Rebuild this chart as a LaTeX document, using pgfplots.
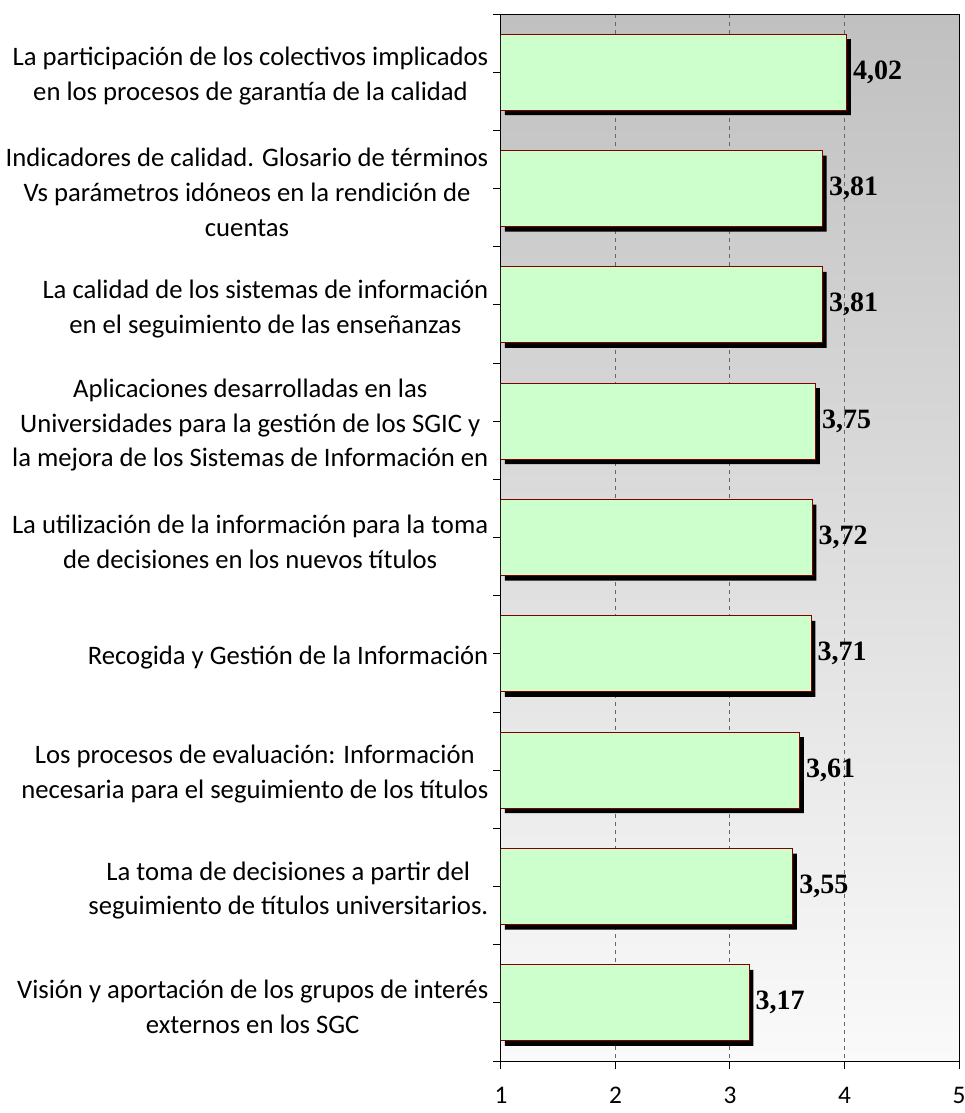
\documentclass[border=0pt]{standalone}
\usepackage{fontspec}
\setmainfont{Carlito}
\newfontfamily\valfont{Liberation Serif Bold}
\usepackage{pgfplots}
\pgfplotsset{compat=1.18}

\definecolor{barfill}{HTML}{CCFFCC}
\definecolor{bardraw}{HTML}{800000}
\definecolor{bgtop}{HTML}{C0C0C0}
\definecolor{bgbot}{HTML}{FAFAFA}

\begin{document}
\begin{tikzpicture}
\begin{axis}[
    scale only axis,
    width=343.5pt,
    height=785.25pt,
    xbar,
    bar width=57pt,
    xmin=1, xmax=5,
    ymin=-0.5, ymax=8.5,
    y dir=reverse,
    xtick={1,2,3,4,5},
    ytick={0,...,8},
    minor ytick={-0.5,0.5,...,8.5},
    yticklabels={
        {La participación de los colectivos implicados\\en los procesos de garantía de la calidad},
        {Indicadores de calidad. Glosario de términos\\Vs parámetros idóneos en la rendición de\\cuentas},
        {La calidad de los sistemas de información\\en el seguimiento de las enseñanzas},
        {Aplicaciones desarrolladas en las\\Universidades para la gestión de los SGIC y\\la mejora de los Sistemas de Información en},
        {La utilización de la información para la toma\\de decisiones en los nuevos títulos},
        {Recogida y Gestión de la Información},
        {Los procesos de evaluación: Información\\necesaria para el seguimiento de los títulos},
        {La toma de decisiones a partir del\\seguimiento de títulos universitarios.},
        {Visión y aportación de los grupos de interés\\externos en los SGC}
    },
    yticklabel style={align=center, font=\fontsize{20}{26}\selectfont, yshift=-3pt},
    xticklabel style={font=\fontsize{19}{22}\selectfont, yshift=-10pt},
    /pgf/number format/assume math mode=true,
    tick align=outside,
    xtick pos=bottom,
    ytick pos=left,
    major tick length=6pt,
    minor tick length=6pt,
    xmajorgrids=true,
    grid style={dashed, black!60, line width=0.75pt},
    axis line style={black, line width=0.75pt},
    tick style={black, line width=0.75pt},
    axis background/.style={top color=bgtop, bottom color=bgbot},
    point meta=x,
    nodes near coords={\pgfmathprintnumber[fixed,fixed zerofill,precision=2,use comma]{\pgfplotspointmeta}},
    every node near coord/.append style={font=\valfont\fontsize{21}{24}\selectfont, black, anchor=west, xshift=1pt},
]
\addplot[
    fill=barfill, draw=bardraw, line width=0.75pt,
    preaction={draw=none, fill=black, transform canvas={shift={(3pt,-3.75pt)}}},
] coordinates {
    (4.02,0) (3.81,1) (3.81,2) (3.75,3) (3.72,4) (3.71,5) (3.61,6) (3.55,7) (3.17,8)
};
\end{axis}
\pgfresetboundingbox
\path ([shift={(-375.75pt,-39pt)}]current axis.south west) rectangle ([shift={(3.75pt,10.5pt)}]current axis.north east);
\end{tikzpicture}
\end{document}
